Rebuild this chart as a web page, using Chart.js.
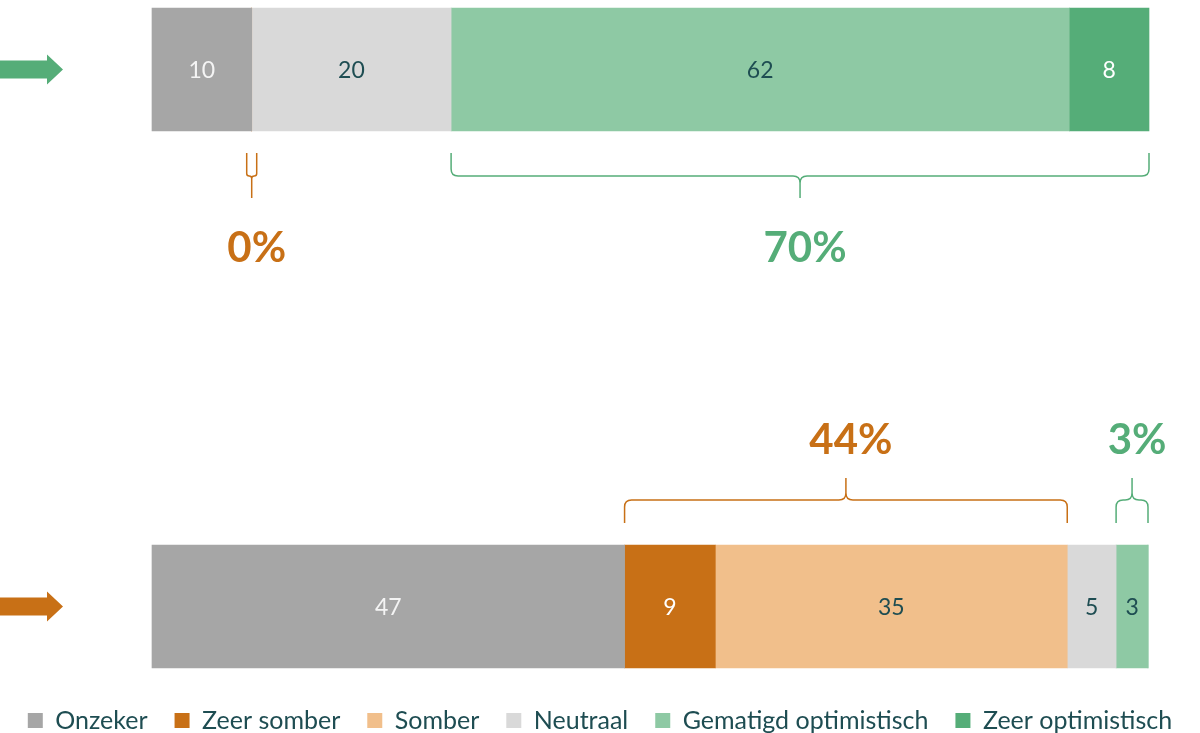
<!DOCTYPE html>
<html>
<head>
<meta charset="utf-8">
<script src="https://cdn.jsdelivr.net/npm/chart.js@4.4.1/dist/chart.umd.min.js"></script>
<style>
  html, body { margin: 0; padding: 0; background: #fff; }
  #wrap { width: 1200px; height: 733px; }
</style>
</head>
<body>
<div id="wrap"><canvas id="chart"></canvas></div>
<script>
// data
var rows = ["Optimistisch", "Somber"];
var categories = ["Onzeker", "Zeer somber", "Somber", "Neutraal", "Gematigd optimistisch", "Zeer optimistisch"];
var onzeker = [10, 47.4];
var zeerSomber = [0, 9.1];
var somber = [0, 35.3];
var neutraal = [20, 4.9];
var gematigd = [62, 3.2];
var zeerOptimistisch = [8, 0];

var colors = ["#a6a6a6", "#c87016", "#f1bf8b", "#d9d9d9", "#8ec9a4", "#55ad78"];
var labelColors = ["#f4f4f4", "#ffffff", "#1e4d52", "#1e4d52", "#1e4d52", "#ffffff"];
var arrowColors = ["#55ad78", "#c87016"];

// brackets: row, first and last category index, colour, side
var brackets = [
    { row: 0, from: 1, to: 2, color: "#c87016", side: "below" },
    { row: 0, from: 4, to: 5, color: "#55ad78", side: "below" },
    { row: 1, from: 1, to: 2, color: "#c87016", side: "above" },
    { row: 1, from: 4, to: 5, color: "#55ad78", side: "above" }
];

var textColor = "#1e4d52";
var font = "Lato, 'Open Sans', sans-serif";
var barHeight = 123;
var padBottom = -10;

var series = [onzeker, zeerSomber, somber, neutraal, gematigd, zeerOptimistisch];

var valueLabels = {
    id: "valueLabels",
    afterDatasetsDraw: function (chart) {
        var ctx = chart.ctx;
        ctx.save();
        ctx.font = "23px " + font;
        ctx.textAlign = "center";
        ctx.textBaseline = "middle";
        chart.data.datasets.forEach(function (ds, i) {
            var meta = chart.getDatasetMeta(i);
            meta.data.forEach(function (bar, j) {
                var v = ds.data[j];
                if (!v) return;
                ctx.fillStyle = labelColors[i];
                ctx.fillText(Math.round(v), (bar.x + bar.base) / 2, bar.y + 1);
            });
        });
        ctx.restore();
    }
};

function brace(ctx, x0, x1, edge, dir) {
    var yA = edge + dir * 22;
    var yH = edge + dir * 45;
    var yT = edge + dir * 67;
    var xm = (x0 + x1) / 2;
    var r = Math.min(7, (x1 - x0) / 4);
    ctx.beginPath();
    ctx.moveTo(x0, yA);
    ctx.lineTo(x0, yH - dir * r);
    ctx.quadraticCurveTo(x0, yH, x0 + r, yH);
    ctx.lineTo(xm - r, yH);
    ctx.quadraticCurveTo(xm, yH, xm, yH + dir * r);
    ctx.lineTo(xm, yT);
    ctx.moveTo(xm, yH + dir * r);
    ctx.quadraticCurveTo(xm, yH, xm + r, yH);
    ctx.lineTo(x1 - r, yH);
    ctx.quadraticCurveTo(x1, yH, x1, yH - dir * r);
    ctx.lineTo(x1, yA);
    ctx.stroke();
}

var extras = {
    id: "extras",
    afterDraw: function (chart) {
        var ctx = chart.ctx;
        var xs = chart.scales.x;
        var ys = chart.scales.y;
        ctx.save();

        // arrows on the left
        rows.forEach(function (r, i) {
            var cy = ys.getPixelForValue(i);
            ctx.fillStyle = arrowColors[i];
            ctx.beginPath();
            ctx.moveTo(0, cy - 9);
            ctx.lineTo(47, cy - 9);
            ctx.lineTo(47, cy - 15);
            ctx.lineTo(63, cy);
            ctx.lineTo(47, cy + 15);
            ctx.lineTo(47, cy + 9);
            ctx.lineTo(0, cy + 9);
            ctx.closePath();
            ctx.fill();
        });

        // brackets with totals
        brackets.forEach(function (b) {
            var start = 0, total = 0, shown = 0;
            for (var k = 0; k < b.from; k++) start += series[k][b.row];
            for (var k2 = b.from; k2 <= b.to; k2++) {
                total += series[k2][b.row];
                shown += Math.round(series[k2][b.row]);
            }
            var x0 = xs.getPixelForValue(start);
            var x1 = xs.getPixelForValue(start + total);
            if (x1 - x0 < 10) {
                var c = (x0 + x1) / 2;
                x0 = c - 5;
                x1 = c + 5;
            }
            var cy = ys.getPixelForValue(b.row);
            var dir = b.side === "below" ? 1 : -1;
            var edge = cy + dir * barHeight / 2;
            ctx.strokeStyle = b.color;
            ctx.lineWidth = 1.5;
            brace(ctx, x0, x1, edge, dir);

            ctx.fillStyle = b.color;
            ctx.font = "bold 42px " + font;
            ctx.textAlign = "center";
            ctx.textBaseline = "middle";
            var ty = b.side === "below" ? edge + 117 : edge - 105;
            ctx.fillText(shown + "%", (x0 + x1) / 2 + 5, ty);
        });
        ctx.restore();
    }
};

var datasets = categories.map(function (name, i) {
    return {
        label: name,
        data: series[i],
        backgroundColor: colors[i],
        borderWidth: 0,
        barThickness: barHeight,
        clip: false
    };
});

var ctx = document.getElementById("chart").getContext("2d");
new Chart(ctx, {
    type: "bar",
    data: { labels: rows, datasets: datasets },
    options: {
        indexAxis: "y",
        responsive: true,
        maintainAspectRatio: false,
        animation: false,
        layout: { padding: { top: 69.5, left: 0, right: 0, bottom: padBottom } },
        scales: {
            x: {
                stacked: true,
                min: 0,
                max: 100 * 1048 / 997,
                grid: { display: false },
                border: { display: false },
                ticks: { display: false },
                afterFit: function (scale) {
                    var lg = scale.chart.legend ? scale.chart.legend.height : 0;
                    scale.height = 733 - padBottom - 606.5 - lg;
                }
            },
            y: {
                stacked: true,
                offset: false,
                grid: { display: false },
                border: { display: false },
                ticks: { display: false },
                afterFit: function (scale) { scale.width = 152; }
            }
        },
        plugins: {
            tooltip: { enabled: false },
            legend: {
                position: "bottom",
                labels: {
                    boxWidth: 15,
                    boxHeight: 15,
                    padding: 27,
                    color: textColor,
                    font: { family: font, size: 25, lineHeight: 1 }
                }
            }
        }
    },
    plugins: [valueLabels, extras]
});
</script>
</body>
</html>
